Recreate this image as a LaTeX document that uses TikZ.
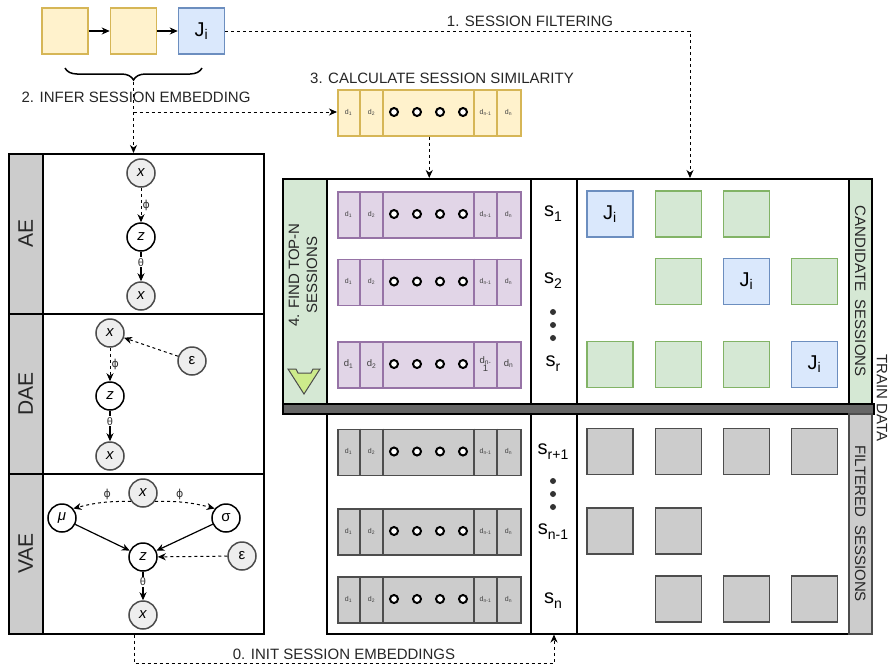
\documentclass[tikz,border=0pt]{standalone}
\usepackage{fontspec}
\setmainfont{Liberation Sans}
\newfontfamily\dejavu{DejaVu Sans}
\usetikzlibrary{arrows.meta,decorations.pathreplacing,calc}
\definecolor{yfill}{HTML}{FFF2CC}\definecolor{ystroke}{HTML}{D6B656}
\definecolor{bfill}{HTML}{DAE8FC}\definecolor{bstroke}{HTML}{6C8EBF}
\definecolor{gfill}{HTML}{D5E8D4}\definecolor{gstroke}{HTML}{82B366}
\definecolor{pfill}{HTML}{E1D5E7}\definecolor{pstroke}{HTML}{9673A6}
\definecolor{kfill}{HTML}{CCCCCC}\definecolor{kstroke}{HTML}{4D4D4D}
\definecolor{cfill}{HTML}{EEEEEE}
\definecolor{darkbar}{HTML}{666666}
\definecolor{limefill}{HTML}{CDEB8B}
\tikzset{
  sq/.style={minimum width=46pt,minimum height=46pt,inner sep=0,line width=1.5pt,font=\fontsize{20}{22}\selectfont},
  ysq/.style={sq,fill=yfill,draw=ystroke},
  bsq/.style={sq,fill=bfill,draw=bstroke},
  gsq/.style={sq,fill=gfill,draw=gstroke},
  ksq/.style={sq,fill=kfill,draw=kstroke},
  lab/.style={font=\fontsize{15}{18}\selectfont,text=black!85,inner sep=0},
  bigtxt/.style={font=\fontsize{21}{24}\selectfont,text=black!85,inner sep=0},
  tip/.style={-{Stealth[length=8pt,width=7pt,inset=2.5pt]}},
  dline/.style={dash pattern=on 3pt off 3pt,line width=1pt},
  sline/.style={line width=1.2pt},
  var/.style={circle,minimum size=28pt,inner sep=0,line width=1.5pt,font=\fontsize{15}{16}\selectfont},
  obs/.style={var,fill=cfill,draw=black!70},
  lat/.style={var,fill=white,draw=black},
  glab/.style={font=\fontsize{11}{12}\selectfont,text=black!80,inner sep=1pt},
  rbox/.style={draw=black,line width=1.5pt,inner sep=0,anchor=north west},
  sdot/.style={circle,fill=black!80,minimum size=6pt,inner sep=0},
}
\newcommand\Ji{J\textsubscript{i}}
\newcommand\slab[1]{s\raisebox{-5pt}{\fontsize{14}{14}\selectfont #1}}
% name, ytop, fill, stroke, fontsize, dn-1 text
\newcommand\embar[6]{%
  \node[draw=#4,fill=#3,line width=1.5pt,minimum width=183pt,minimum height=46pt,inner sep=0,anchor=north west] (#1) at (337,#2) {};
  \foreach \xa in {360,383,474,497} {\draw[#4,line width=1.5pt] (\xa,#2) -- ++(0,46);}
  \foreach \xa in {394,417,440,463} {\node[circle,draw=black,line width=2pt,fill=white,minimum size=8pt,inner sep=0] at (\xa,#2+23) {};}
  \node[font=\fontsize{#5}{#5}\selectfont,text=black!75,inner sep=0] at (348.5,#2+23) {d\textsubscript{1}};
  \node[font=\fontsize{#5}{#5}\selectfont,text=black!75,inner sep=0] at (371.5,#2+23) {d\textsubscript{2}};
  \node[font=\fontsize{#5}{#5}\selectfont,text=black!75,inner sep=0,align=center] at (485.5,#2+23) {#6};
  \node[font=\fontsize{#5}{#5}\selectfont,text=black!75,inner sep=0] at (508.5,#2+23) {d\textsubscript{n}};
}
\newcommand\regbox[6]{% name, x1, y1, x2, y2, style
  \node[rbox,#6,minimum width={(#4-#2)*1pt},minimum height={(#5-#3)*1pt}] (#1) at (#2,#3) {};
}
\begin{document}
\begin{tikzpicture}[x=1pt,y=-1pt]
\useasboundingbox (0,0) rectangle (894,670);
% ---------- top sequence ----------
\node[ysq] (j1) at (65,31) {};
\node[ysq] (j2) at (133.5,31) {};
\node[bsq] (j3) at (201.5,31) {\Ji};
\draw[sline,tip] (j1) -- (j2);
\draw[sline,tip] (j2) -- (j3);
\draw[line width=1.5pt,decorate,decoration={brace,mirror,amplitude=12pt}] (65,68) -- (202,68);
\coordinate (btip) at (133.5,82);
\coordinate (bmid) at (133.5,112);
\node[lab] (inferlab) at (136,97) {2. INFER SESSION EMBEDDING};
% ---------- top embedding bar ----------
\embar{topbar}{89}{yfill}{ystroke}{7}{d\textsubscript{n-1}}
\node[lab] (simlab) at (442,78) {3. CALCULATE SESSION SIMILARITY};
\node[lab] (filtlab) at (530,21) {1. SESSION FILTERING};
% ---------- left panel ----------
\regbox{ae}{8}{153}{263}{313}{}
\regbox{dae}{8}{313}{263}{473}{}
\regbox{vae}{8}{473}{263}{633}{}
\regbox{aes}{8}{153}{42}{313}{fill=kfill}
\regbox{daes}{8}{313}{42}{473}{fill=kfill}
\regbox{vaes}{8}{473}{42}{633}{fill=kfill}
\node[bigtxt,rotate=90] at (aes.center) {AE};
\node[bigtxt,rotate=90] at (daes.center) {DAE};
\node[bigtxt,rotate=90] at (vaes.center) {VAE};
% AE
\node[obs] (aex1) at (141,173) {\textit{x}};
\node[lat] (aez) at (141,237) {\textit{z}};
\node[obs] (aex2) at (141,296) {\textit{x}};
\draw[dline,tip] (aex1) -- node[glab,right]{\dejavu ϕ} (aez);
\draw[sline,tip] (aez) -- node[glab,fill=white,pos=0.35]{θ} (aex2);
% DAE
\node[obs] (daex1) at (110,333) {\textit{x}};
\node[obs] (daee) at (192,361) {ε};
\node[lat] (daez) at (110,396) {\textit{z}};
\node[obs] (daex2) at (110,456) {\textit{x}};
\draw[dline,tip] (daee) -- (daex1);
\draw[dline,tip] (daex1) -- node[glab,right]{\dejavu ϕ} (daez);
\draw[sline,tip] (daez) -- node[glab,fill=white,pos=0.35]{θ} (daex2);
% VAE
\node[obs] (vaex1) at (143,493) {\textit{x}};
\node[lat] (vaemu) at (62,518) {\textit{μ}};
\node[lat] (vaesig) at (226,518) {σ};
\node[lat] (vaez) at (143,557) {\textit{z}};
\node[obs] (vaee) at (242,556) {ε};
\node[obs] (vaex2) at (143,615) {\textit{x}};
\draw[dline,tip] (vaex1.215) to[bend right=8] node[glab,above=1pt,pos=0.4]{\dejavu ϕ} (vaemu.40);
\draw[dline,tip] (vaex1.325) to[bend left=8] node[glab,above=1pt,pos=0.4]{\dejavu ϕ} (vaesig.140);
\draw[sline,tip] (vaemu) -- (vaez);
\draw[sline,tip] (vaesig) -- (vaez);
\draw[dline,tip] (vaee) -- (vaez);
\draw[sline,tip] (vaez) -- node[glab,fill=white,pos=0.35]{θ} (vaex2);
% ---------- right panel ----------
\regbox{fstrip}{282}{178}{326}{403}{fill=gfill}
\regbox{tmain}{326}{178}{530}{403}{}
\regbox{tscol}{530}{178}{576}{403}{}
\regbox{tcand}{576}{178}{848}{403}{}
\regbox{cstrip}{848}{178}{871}{403}{fill=gfill}
\regbox{dbar}{282}{403}{873}{413}{fill=darkbar}
\regbox{bmain}{326}{413}{530}{633}{}
\regbox{bscol}{530}{413}{576}{633}{}
\regbox{bfilt}{576}{413}{848}{633}{}
\regbox{kstrip}{848}{413}{871}{633}{fill=kfill,draw=black!70}
\node[lab,rotate=90,align=center] at (303,275) {4. FIND TOP-N\\SESSIONS};
\draw[fill=limefill,draw=black!70,line width=1pt] (288,369) -- (296,369) -- (298,373) -- (311,373) -- (313,369) -- (320,369) -- (304,394) -- cycle;
\node[lab,rotate=-90] at (cstrip.center) {CANDIDATE\ \ SESSIONS};
\node[lab,rotate=-90] at (kstrip.center) {FILTERED\ \ SESSIONS};
\node[lab,rotate=-90] at (882,398) {TRAIN DATA};
% purple rows
\embar{pr1}{191}{pfill}{pstroke}{7}{d\textsubscript{n-1}}
\embar{pr2}{258.5}{pfill}{pstroke}{7}{d\textsubscript{n-1}}
\embar{pr3}{341}{pfill}{pstroke}{9.5}{d\textsubscript{n-}\\[-1pt]1}
% gray rows
\embar{kr1}{428.5}{kfill}{kstroke}{7}{d\textsubscript{n-1}}
\embar{kr2}{508}{kfill}{kstroke}{7}{d\textsubscript{n-1}}
\embar{kr3}{576}{kfill}{kstroke}{7}{d\textsubscript{n-1}}
% s labels
\node[font=\fontsize{20}{22}\selectfont,inner sep=0] at (553,214) {\slab{1}};
\node[font=\fontsize{20}{22}\selectfont,inner sep=0] at (553,281) {\slab{2}};
\node[sdot] at (553,312) {};
\node[sdot] at (553,325) {};
\node[sdot] at (553,338) {};
\node[font=\fontsize{20}{22}\selectfont,inner sep=0] at (553,364) {\slab{r}};
\node[font=\fontsize{20}{22}\selectfont,inner sep=0] at (553,452) {\slab{r+1}};
\node[sdot] at (553,481) {};
\node[sdot] at (553,494) {};
\node[sdot] at (553,507) {};
\node[font=\fontsize{20}{22}\selectfont,inner sep=0] at (553,532) {\slab{n-1}};
\node[font=\fontsize{20}{22}\selectfont,inner sep=0] at (553,601) {\slab{n}};
% candidate squares
\node[bsq] (c11) at (610,214) {\Ji};
\node[gsq] (c12) at (678.5,214) {};
\node[gsq] (c13) at (746.5,214) {};
\node[gsq] (c22) at (678.5,281.5) {};
\node[bsq] (c23) at (746.5,281.5) {\Ji};
\node[gsq] (c24) at (814.5,281.5) {};
\node[gsq] (c31) at (610,364.5) {};
\node[gsq] (c32) at (678.5,364.5) {};
\node[gsq] (c33) at (746.5,364.5) {};
\node[bsq] (c34) at (814.5,364.5) {\Ji};
% filtered squares
\node[ksq] (f11) at (610,451.5) {};
\node[ksq] (f12) at (678.5,451.5) {};
\node[ksq] (f13) at (746.5,451.5) {};
\node[ksq] (f14) at (814.5,451.5) {};
\node[ksq] (f21) at (610,531) {};
\node[ksq] (f22) at (678.5,531) {};
\node[ksq] (f32) at (678.5,599) {};
\node[ksq] (f33) at (746.5,599) {};
\node[ksq] (f34) at (814.5,599) {};
% ---------- connectors ----------
\draw[dline,tip] (btip) -- (btip |- ae.north);
\draw[dline,tip] (bmid) -- (topbar.west |- bmid);
\coordinate (fcorner) at (690,31);
\draw[dline,tip] (j3.east) -- (fcorner) -- (fcorner |- tcand.north);
\draw[dline,tip] (topbar.south) -- (topbar.south |- tmain.north);
\coordinate (i1) at (134,663);
\coordinate (i2) at (554,663);
\draw[dline,tip] (i1 |- vae.south) -- (i1) -- (i2) -- (i2 |- bscol.south);
\node[lab] (initlab) at (344,654) {0. INIT SESSION EMBEDDINGS};
\end{tikzpicture}
\end{document}
